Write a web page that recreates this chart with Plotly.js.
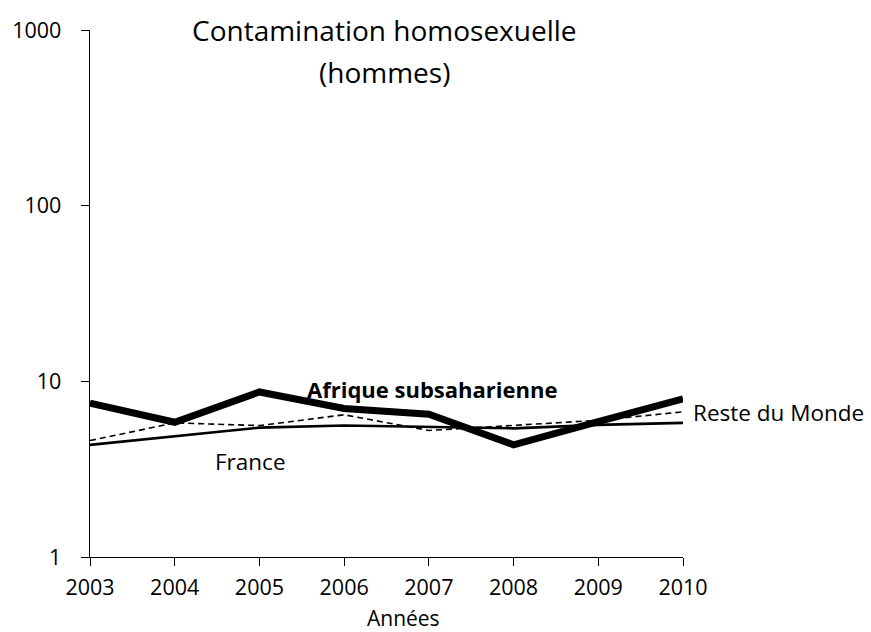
<!DOCTYPE html>
<html>
<head>
<meta charset="utf-8">
<script src="https://cdn.plot.ly/plotly-3.0.1.min.js"></script>
<style>html,body{margin:0;padding:0;background:#fff;}#chart{width:871px;height:632px;}</style>
</head>
<body>
<div id="chart"></div>
<script>
const years = [2003, 2004, 2005, 2006, 2007, 2008, 2009, 2010];
const afrique = [7.5, 5.85, 8.7, 7.0, 6.5, 4.35, 5.9, 7.95];
const france = [4.35, 4.85, 5.45, 5.6, 5.5, 5.4, 5.65, 5.8];
const resteMonde = [4.6, 5.8, 5.6, 6.45, 5.25, 5.6, 6.0, 6.7];
const yTicks = [1, 10, 100, 1000];
const yTickText = ['1', '10', '100', '1000'];
const xTickText = years.map(String);

const FONT = 'Open Sans, Noto Sans, sans-serif';

const traces = [
  {x: years, y: resteMonde, mode: 'lines', line: {color: '#000', width: 1.6, dash: '6px,4px'}, name: 'Reste du Monde'},
  {x: years, y: france, mode: 'lines', line: {color: '#000', width: 2.6}, name: 'France'},
  {x: years, y: afrique, mode: 'lines', line: {color: '#000', width: 7}, name: 'Afrique subsaharienne'}
];

const layout = {
  width: 871, height: 632,
  margin: {l: 90, r: 188, t: 30, b: 75},
  paper_bgcolor: '#fff', plot_bgcolor: '#fff',
  showlegend: false,
  font: {family: FONT, color: '#000', size: 21},
  xaxis: {
    range: [2003, 2010], tickvals: years, ticktext: xTickText,
    showline: true, linecolor: '#000', linewidth: 1.3, mirror: false,
    ticks: 'outside', ticklen: 8, tickwidth: 1, tickcolor: '#000',
    showgrid: false, zeroline: false,
    tickfont: {size: 21.5, family: FONT}, ticklabelstandoff: 3
  },
  yaxis: {
    type: 'log', range: [0, 3], tickvals: yTicks, ticktext: yTickText,
    showline: true, linecolor: '#000', linewidth: 1.3,
    ticks: 'outside', ticklen: 8, tickwidth: 1, tickcolor: '#000',
    showgrid: false, zeroline: false,
    tickfont: {size: 21.5, family: FONT}, ticklabelstandoff: 15
  },
  annotations: [
    {xref: 'paper', yref: 'paper', x: 0.497, y: 1.0, xanchor: 'center', yanchor: 'middle',
     text: 'Contamination homosexuelle', showarrow: false, font: {size: 28, family: FONT}},
    {xref: 'paper', yref: 'paper', x: 0.497, y: 0.92, xanchor: 'center', yanchor: 'middle',
     text: '(hommes)', showarrow: false, font: {size: 28, family: FONT}},
    {xref: 'paper', yref: 'paper', x: 0.577, y: 0.318, xanchor: 'center', yanchor: 'middle',
     text: '<b>Afrique subsaharienne</b>', showarrow: false, font: {size: 22, family: FONT}},
    {xref: 'paper', yref: 'paper', x: 1.013, y: 0.275, xanchor: 'left', yanchor: 'middle',
     text: 'Reste du Monde', showarrow: false, font: {size: 22.5, family: FONT}},
    {xref: 'paper', yref: 'paper', x: 0.27, y: 0.182, xanchor: 'center', yanchor: 'middle',
     text: 'France', showarrow: false, font: {size: 22.5, family: FONT}},
    {xref: 'paper', yref: 'paper', x: 0.5295, y: -0.116, xanchor: 'center', yanchor: 'middle',
     text: 'Années', showarrow: false, font: {size: 21, family: FONT}, borderpad: 0}
  ]
};

Plotly.newPlot('chart', traces, layout, {displayModeBar: false, staticPlot: true});
</script>
</body>
</html>
